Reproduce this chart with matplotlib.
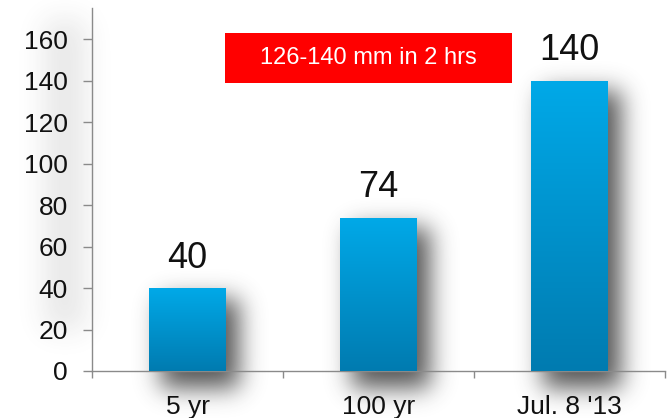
import numpy as np
import matplotlib
matplotlib.use("Agg")
import matplotlib.pyplot as plt
from matplotlib.colors import LinearSegmentedColormap

categories = ["5 yr", "100 yr", "Jul. 8 '13"]
rainfall_mm = [40, 74, 140]
value_labels = ["40", "74", "140"]
y_ticks = [0, 20, 40, 60, 80, 100, 120, 140, 160]
banner_text = "126-140 mm in 2 hrs"

W, H, DPI = 668, 418, 100
plt.rcParams["font.family"] = ["Liberation Sans", "DejaVu Sans"]

fig = plt.figure(figsize=(W / DPI, H / DPI), dpi=DPI)
fig.patch.set_facecolor("white")
ax = fig.add_axes([92 / W, 1 - 371 / H, (665 - 92) / W, (371 - 8) / H])
ax.patch.set_alpha(0)
ax.set_zorder(2)

x = np.arange(len(categories))
ax.set_xlim(-0.5, len(categories) - 0.5)
ax.set_ylim(0, 175)

bars = ax.bar(x, rainfall_mm, width=0.4, color="#0096d2", zorder=3)

# vertical blue gradient inside every bar
cmap = LinearSegmentedColormap.from_list("bar", ["#007bb0", "#00a9e8"])
grad = np.linspace(0, 1, 256).reshape(-1, 1)
for b in bars:
    x0, y0 = b.get_x(), b.get_y()
    im = ax.imshow(grad, cmap=cmap, origin="lower", aspect="auto",
                   extent=[x0, x0 + b.get_width(), y0, y0 + b.get_height()],
                   zorder=4)
    im.set_clip_path(b)
ax.set_xlim(-0.5, len(categories) - 0.5)
ax.set_ylim(0, 175)

for b, lab in zip(bars, value_labels):
    ax.annotate(lab, (b.get_x() + b.get_width() / 2, b.get_height()),
                xytext=(0, 9), textcoords="offset points",
                ha="center", va="bottom", fontsize=26, color="#111111")

# axes styling
for s in ["top", "right"]:
    ax.spines[s].set_visible(False)
for s in ["left", "bottom"]:
    ax.spines[s].set_color("#8a8a8a")
    ax.spines[s].set_linewidth(1.0)
ax.set_yticks(y_ticks)
ax.tick_params(axis="y", length=6.5, width=1.0, color="#8a8a8a",
               labelsize=19, pad=11, labelcolor="#111111")
ax.set_xticks(np.arange(-0.5, len(categories)), minor=False)
ax.set_xticklabels([])
ax.set_xticks(x, minor=True)
ax.set_xticklabels(categories, minor=True)
ax.tick_params(axis="x", which="major", length=5, width=1.0, color="#8a8a8a")
ax.tick_params(axis="x", which="minor", length=0, labelsize=19, pad=17,
               labelcolor="#111111")

# red banner
ax.text(0.5 * ((225 - 92) + (512 - 92)) / (665 - 92), 1 - (58 - 8) / (371 - 8),
        banner_text, transform=ax.transAxes, ha="center", va="center",
        fontsize=17, color="white")
fig.patches.append(plt.Rectangle((225 / W, 1 - 83 / H), (512 - 225) / W,
                                 (83 - 33) / H, transform=fig.transFigure,
                                 facecolor="#ff0000", edgecolor="none",
                                 zorder=1))


# soft drop shadows behind bars and along the value axis
def blur(a, sigma):
    r = int(3 * sigma)
    k = np.exp(-0.5 * (np.arange(-r, r + 1) / sigma) ** 2)
    k /= k.sum()
    a = np.apply_along_axis(lambda v: np.convolve(v, k, mode="same"), 1, a)
    a = np.apply_along_axis(lambda v: np.convolve(v, k, mode="same"), 0, a)
    return a

mask = np.zeros((H, W))
for b in bars:
    (px0, py0), (px1, py1) = ax.transData.transform(
        [(b.get_x(), 0), (b.get_x() + b.get_width(), b.get_height())])
    c0, c1 = int(px0) + 12, int(px1) + 14
    r0, r1 = H - int(py1) + 10, H - int(py0) + 16
    mask[max(r0, 0):r1, c0:c1] = 1.0
shadow = blur(mask, 12) * 0.85

axmask = np.zeros((H, W))
axmask[20:330, 45:85] = 1.0
shadow = np.maximum(shadow, blur(axmask, 14) * 0.12)

rgba = np.zeros((H, W, 4))
rgba[..., :3] = 0.22
rgba[..., 3] = np.clip(shadow, 0, 1)
fig.figimage(rgba, 0, 0, origin="upper", zorder=0.5)

fig.savefig("out.png", dpi=DPI, facecolor="white")
